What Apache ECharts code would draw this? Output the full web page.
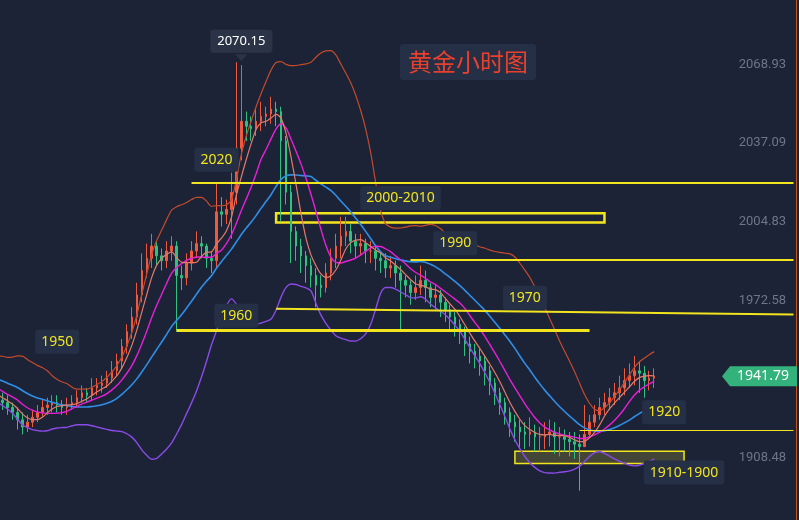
<!DOCTYPE html>
<html><head><meta charset="utf-8">
<script src="https://cdn.jsdelivr.net/npm/echarts@6/dist/echarts.min.js"></script>
<style>html,body{margin:0;padding:0;background:#1c2336}#c{width:799px;height:520px}</style>
</head><body><div id="c"></div>
<script>
const opens=[1944,1945,1947,1944,1942,1946,1948,1945,1943,1940,1942,1944,1941,1938,1936,1939,1937,1935,1934,1933,
1932,1931,1929,1927,1924,1921,1923,1925,1927,1929,1930,1931,1930,1929,1930,1931,1933,1935,1934,1937,
1938,1939,1941,1944,1948,1954,1960,1966,1975,1985,1990,1995,1991,1989,1993,1995,1983,1982,1988,1993,
1996,1995,1990,1989,2009,2008,2010,2017,2035,2046,2044,2043,2046,2048,2049,2051,2050,2038,2017,2001,
1995,1991,1987,1983,1979,1978,1984,1990,1995,1999,2001,1997,1995,1996,1993,1993,1990,1989,1986,1987,
1984,1981,1979,1976,1978,1981,1978,1974,1975,1972,1969,1966,1963,1960,1955,1952,1950,1948,1944,1939,
1935,1931,1927,1923,1921,1919,1918,1919,1917,1917,1918,1919,1917,1917,1916,1915,1914,1913,1918,1923,
1926,1929,1931,1933,1935,1937,1940,1942,1944,1943,1940,1941];
const closes=[1945,1947,1944,1942,1946,1948,1945,1943,1940,1942,1944,1941,1938,1936,1939,1937,1935,1934,1933,1932,
1931,1929,1927,1924,1921,1923,1925,1927,1929,1930,1931,1930,1929,1930,1931,1933,1935,1934,1937,1938,
1939,1941,1944,1948,1954,1960,1966,1975,1985,1990,1995,1991,1989,1993,1995,1983,1982,1988,1993,1996,
1995,1990,1989,2009,2008,2010,2017,2035,2046,2044,2043,2046,2048,2049,2051,2050,2038,2017,2001,1995,
1991,1987,1983,1979,1978,1984,1990,1995,1999,2001,1997,1995,1996,1993,1993,1990,1989,1986,1987,1984,
1981,1979,1976,1978,1981,1978,1974,1975,1972,1969,1966,1963,1960,1955,1952,1950,1948,1944,1939,1935,
1931,1927,1923,1921,1919,1918,1919,1917,1917,1918,1919,1917,1917,1916,1915,1914,1913,1918,1923,1926,
1929,1931,1933,1935,1937,1940,1942,1944,1943,1940,1941,1941.79];
const highs=[1948,1950,1949,1947,1949,1951,1950,1947,1945,1945,1947,1946,1943,1940,1942,1941,1939,1937,1936,1935,
1935,1934,1931,1929,1927,1926,1928,1930,1932,1933,1934,1934,1932,1933,1934,1936,1938,1937,1941,1941,
1942,1944,1948,1951,1957,1963,1970,1980,1992,1996,2000,1997,1994,1997,1999,1997,1987,1992,1997,2001,
1999,1996,1993,2021,2015,2014,2025,2070.15,2069,2050,2048,2051,2054,2052,2056,2054,2052,2040,2020,2003,
1998,1993,1990,1986,1983,1988,1994,2000,2007,2007,2004,2000,2000,1998,1997,1995,1993,1992,1991,1989,
1987,1983,1981,1983,1987,1985,1980,1979,1977,1974,1971,1968,1965,1962,1958,1955,1953,1950,1946,1941,
1937,1933,1929,1926,1924,1923,1925,1922,1921,1923,1924,1923,1921,1920,1919,1919,1918,1930,1926,1930,
1933,1935,1937,1939,1942,1945,1947,1950,1948,1946,1944,1945];
const lows=[1941,1943,1941,1939,1940,1944,1942,1940,1937,1938,1940,1938,1935,1933,1934,1934,1932,1931,1930,1929,
1928,1926,1924,1920,1918,1919,1921,1923,1925,1926,1927,1927,1926,1926,1928,1929,1931,1931,1932,1934,
1935,1937,1939,1942,1945,1951,1957,1963,1972,1982,1986,1987,1985,1986,1989,1960,1977,1979,1985,1990,
1990,1986,1984,1986,2003,2004,1998,2012,2030,2038,2038,2040,2042,2044,2045,2044,2005,2012,1988,1989,
1984,1980,1978,1970,1974,1976,1981,1986,1990,1995,1992,1990,1991,1988,1988,1985,1984,1982,1982,1978,
1960,1974,1971,1973,1975,1972,1970,1969,1966,1964,1960,1958,1955,1950,1947,1945,1942,1938,1934,1930,
1926,1922,1917,1915,1912,1912,1913,1911,1911,1912,1913,1910,1909,1911,1909,1908,1895,1913,1917,1921,
1924,1926,1928,1930,1932,1934,1937,1938,1935,1933,1936,1937];
const tickValues=[1908.48,1972.58,2004.83,2037.09,2068.93];
const lastPrice=1941.79;
const peakPrice=2070.15;
// horizontal levels: [fromIndex, toIndex, startPrice, endPrice, width]
const levelLines=[[58,179,2020.8,2020.8,2],[102,179,1989.6,1989.6,2],[75,179,1969.4,1967.0,2],[55,138,1960.4,1960.4,3],[0,179,1949.3,1949.3,2],[136,179,1919.7,1919.7,1]];
// zones: [fromIndex, toIndex, low, high, fill]
const zones=[[75,141,2004.6,2008.4,'rgba(0,0,0,0)'],[123,157,1906.1,1911.1,'rgba(80,82,55,0.75)']];
// label anchors: [text, index, price]
const levelLabels=[['2020',62.6,2030.3],['2000-2010',100,2014.6],['1990',110.9,1996.1],['1970',124.5,1973.9],['1960',67.4,1966.5],['1950',30.5,1955.9],['1920',152.7,1927.1],['1910-1900',157.3,1902.4]];
const warm=20, totalSlots=180;

const cats=[];for(let i=0;i<totalSlots;i++)cats.push(i);
const kdata=opens.map((o,i)=>[o,closes[i],lows[i],highs[i]]);
function ma(n){return closes.map((c,i)=>{if(i<n-1)return null;let s=0;for(let j=i-n+1;j<=i;j++)s+=closes[j];return +(s/n).toFixed(2);});}
function boll(k){const m=ma(20);return closes.map((c,i)=>{if(i<19)return null;let s=0;for(let j=i-19;j<=i;j++)s+=(closes[j]-m[i])**2;return +(m[i]+k*Math.sqrt(s/20)).toFixed(2);});}
const line=(name,data,color,w)=>({name,type:'line',data,symbol:'none',smooth:0.3,lineStyle:{color,width:w},z:3,silent:true});

const ml=levelLines.map(l=>[{coord:[l[0],l[2]],lineStyle:{width:l[4]}},{coord:[l[1],l[3]]}]);
ml.push([{coord:[0,lastPrice],lineStyle:{color:'#2a8a62',width:1}},{coord:[179,lastPrice]}]);
const ma_=zones.map(z=>[{coord:[z[0],z[3]],itemStyle:{color:z[4],borderColor:'#f2e41e',borderWidth:z[4].startsWith('rgba(0')?2.5:1.5}},{coord:[z[1],z[2]]}]);

const chart=echarts.init(document.getElementById('c'));
chart.setOption({
 backgroundColor:'#1c2336',animation:false,
 grid:{left:0,right:3,top:0,bottom:0},
 xAxis:{type:'category',data:cats,boundaryGap:true,show:false},
 yAxis:{type:'value',min:1883,max:2095.6,position:'right',splitLine:{show:false},
  axisLine:{show:true,lineStyle:{color:'#c0541c',width:1}},axisTick:{show:false},
  axisLabel:{inside:true,margin:10,color:'#6e7588',fontSize:13,fontFamily:'Roboto',customValues:tickValues,formatter:v=>v.toFixed(2)}},
 dataZoom:[{type:'inside',xAxisIndex:0,startValue:warm,endValue:warm+totalSlots-21,filterMode:'none',disabled:true}],
 series:[
  {type:'candlestick',data:kdata,barMaxWidth:2,barWidth:2,
   itemStyle:{color:'#f2583c',color0:'#2ec27e',borderColor:'#f2583c',borderColor0:'#2ec27e',borderWidth:1},
   markLine:{symbol:'none',silent:true,label:{show:false},lineStyle:{color:'#f2e41e',type:'solid'},data:ml},
   markArea:{silent:true,data:ma_}},
  line('upper',boll(2),'#c44a2c',1.2),
  line('lower',boll(-2),'#8a4be6',1.4),
  line('mid',ma(20),'#2f8ee8',1.6),
  line('ma10',ma(10),'#e81fd8',1.4),
  line('ma5',ma(5),'#e57a6a',1.2)
 ]
});
const g=[];
levelLabels.forEach(l=>{const p=chart.convertToPixel({gridIndex:0},[l[1],l[2]]);
 g.push({type:'text',x:p[0],y:p[1],z:100,style:{text:l[0],fill:'#f2e41e',font:'14px "Noto Sans"',align:'center',verticalAlign:'middle',backgroundColor:'#253047',padding:[5,6],borderRadius:3}});});
const pk=chart.convertToPixel({gridIndex:0},[67.5,peakPrice]);
g.push({type:'polygon',z:100,shape:{points:[[pk[0]-6,pk[1]-8],[pk[0]+6,pk[1]-8],[pk[0],pk[1]-1]]},style:{fill:'#2b3446'}});
g.push({type:'text',x:pk[0],y:pk[1]-21,z:100,style:{text:'2070.15',fill:'#ffffff',font:'13px "Noto Sans"',align:'center',verticalAlign:'middle',backgroundColor:'#2b3446',padding:[5,7],borderRadius:3}});
const lp=chart.convertToPixel({gridIndex:0},[0,lastPrice]);
g.push({type:'polygon',z:100,shape:{points:[[722,lp[1]],[730,lp[1]-10],[797,lp[1]-10],[797,lp[1]+10],[730,lp[1]+10]]},style:{fill:'#34b27c'}});
g.push({type:'text',x:763,y:lp[1],z:101,style:{text:'1941.79',fill:'#ffffff',font:'14px "Noto Sans"',align:'center',verticalAlign:'middle'}});
g.push({type:'text',x:468,y:62,z:100,style:{text:'黄金小时图',fill:'#e8402c',font:'24px "Noto Sans CJK SC"',align:'center',verticalAlign:'middle',backgroundColor:'#253047',padding:[6,8],borderRadius:3}});
chart.setOption({graphic:g});
</script></body></html>
